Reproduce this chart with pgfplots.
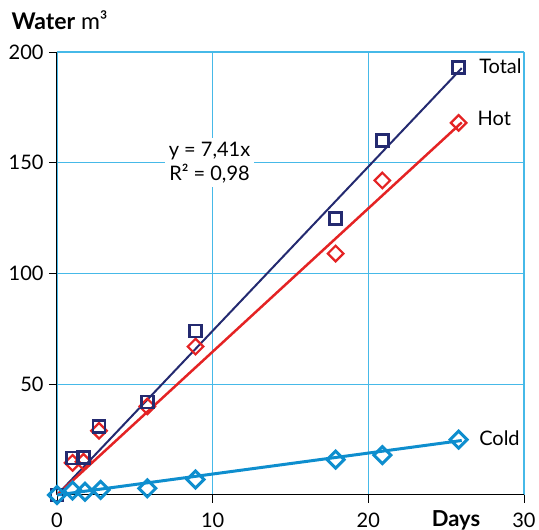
\documentclass[border=0pt]{standalone}
\usepackage{fontspec}
\setmainfont{Lato}
\usepackage{pgfplots}
\pgfplotsset{compat=1.18}
\definecolor{totalc}{RGB}{36,42,112}
\definecolor{hotc}{RGB}{228,35,36}
\definecolor{coldc}{RGB}{14,142,206}
\definecolor{gridc}{RGB}{70,185,232}
\begin{document}
\begin{tikzpicture}
\begin{axis}[
  at={(0,0)}, anchor=origin,
  scale only axis, width=467pt, height=443pt,
  xmin=0, xmax=30, ymin=0, ymax=200,
  xtick={0,10,20,30}, ytick={50,100,150,200},
  axis lines=left, axis line style={-, black, line width=1pt},
  tick align=outside, major tick length=8pt,
  tick style={black, line width=0.8pt},
  grid=major, major grid style={gridc, line width=1.2pt},
  ticklabel style={font=\fontsize{20}{24}\selectfont},
  /pgf/number format/assume math mode=true,
  xticklabel style={yshift=-6pt},
  yticklabel style={xshift=-2pt},
  clip=false,
]
% trend lines
\addplot[totalc, line width=2pt] coordinates {(0,0) (26,192.7)};
\addplot[hotc, line width=2.5pt] coordinates {(0,0) (26,168.2)};
\addplot[coldc, line width=3pt] coordinates {(0,0) (26,24.6)};
% hot
\addplot[only marks, hotc, mark=square, mark size=5.5pt,
  mark options={rotate=45, line width=2.2pt, fill=white}] coordinates {
  (1,14.5) (1.7,15) (2.7,29) (5.8,40) (8.9,67) (17.9,109) (20.9,142) (25.8,168)};
% total
\addplot[only marks, totalc, mark=square, mark size=6pt,
  mark options={line width=2.8pt, fill=white}] coordinates {
  (0,0) (1,16.7) (1.7,17) (2.7,31) (5.8,42) (8.9,74) (17.9,125) (20.9,160) (25.8,193)};
% cold
\addplot[only marks, coldc, mark=square, mark size=6pt,
  mark options={rotate=45, line width=3pt, fill=white}] coordinates {
  (0,0) (1,2) (1.8,1.5) (2.8,2.3) (5.8,3) (8.9,7) (17.9,16) (20.9,18) (25.8,25)};
\node[fill=white, align=center, font=\fontsize{20}{24}\selectfont, inner sep=4pt]
  at (axis cs:9.8,150) {y = 7,41x\\R² = 0,98};
\node[anchor=west, font=\fontsize{20}{24}\selectfont] at (axis cs:26.9,193.5) {Total};
\node[anchor=west, font=\fontsize{20}{24}\selectfont] at (axis cs:26.8,170) {Hot};
\node[anchor=west, font=\fontsize{20}{24}\selectfont] at (axis cs:26.9,25.5) {Cold};
\end{axis}
\node[anchor=west, font=\fontsize{23}{26}\selectfont] at (-49pt,475pt) {\textbf{Water} m³};
\node[font=\bfseries\fontsize{22}{26}\selectfont] at (399pt,-25pt) {Days};
\pgfresetboundingbox
\path[use as bounding box] (-57pt,-35pt) rectangle (482pt,495pt);
\end{tikzpicture}
\end{document}
